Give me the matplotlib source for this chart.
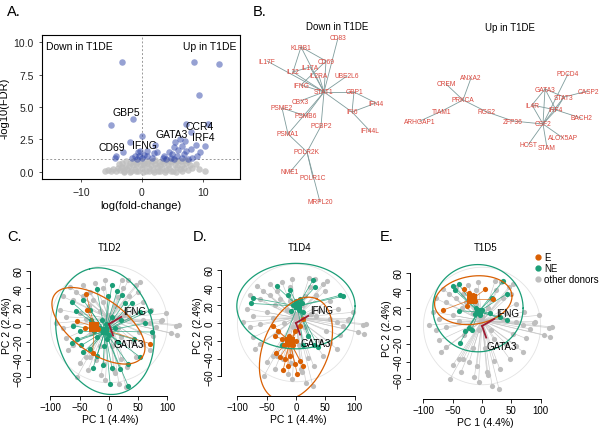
import numpy as np
import matplotlib
matplotlib.use('Agg')
import matplotlib.pyplot as plt

plt.rcParams['font.family'] = ['Liberation Sans', 'DejaVu Sans']

# ---------------- data ----------------
# A. volcano
blue_pts = [(-3.2, 8.5), (8.6, 8.5), (12.6, 8.3), (9.4, 5.9), (10.8, 3.7), (-1.5, 4.1), (-5, 3.6),
            (0, 2.8), (-2, 2.3), (2.2, 2.1), (-4.3, 1.25), (-4.4, 1.05), (-3.1, 1.5), (-0.7, 1.5),
            (-0.4, 1.25), (-0.8, 1.0), (0, 1.05), (0.8, 1.25), (1.6, 1.05), (2.4, 1.5), (-1.6, 1.05),
            (5.4, 2.3), (6.2, 2.5), (7.3, 3.7), (8.1, 3.1), (6.5, 2.0), (7.3, 1.6), (5.2, 1.9),
            (4.4, 1.5), (3.6, 1.25), (4.75, 1.1), (5.8, 1.2), (6.6, 1.1), (8.1, 1.8), (8.9, 2.1),
            (3.9, 1.0), (5.2, 1.0), (3.5, 1.05), (8.3, 1.05), (7.5, 1.0), (9.1, 1.25), (0.9, 1.6),
            (2.0, 1.46), (10.3, 2.0), (-0.3, 1.6), (0.3, 1.3), (-1.2, 1.2), (6.9, 1.4), (4.9, 1.4),
            (9.6, 1.5), (7.0, 2.4), (5.9, 1.7)]
gray_lfc = [-6.0, -5.5, -5.1, -4.7, -4.3, -4.0, -3.6, -3.3, -3.0, -2.7, -2.4, -2.1, -1.8, -1.5, -1.2,
            -0.9, -0.6, -0.3, 0.0, 0.3, 0.6, 0.9, 1.2, 1.5, 1.8, 2.1, 2.4, 2.7, 3.0, 3.3, 3.6, 3.9, 4.2,
            4.5, 4.8, 5.1, 5.4, 5.7, 6.0, 6.3, 6.6, 6.9, 7.2, 7.5, 7.9, 8.3, 8.8, 9.4, 10.3,
            -3.8, -3.2, -2.6, -2.0, -1.4, -0.8, -0.2, 0.4, 1.0, 1.6, 2.2, 2.8, 3.4, 4.0, 4.6, 5.2, 5.8,
            6.4, 7.0, 7.6,
            -2.9, -1.9, -1.0, 0.1, 1.1, 2.0, 2.9, 3.8, 4.7, 5.6, 6.5]
gray_lfdr = [0.05, 0.15, 0.1, 0.25, 0.1, 0.3, 0.15, 0.35, 0.1, 0.4, 0.2, 0.45, 0.1, 0.5, 0.25, 0.6,
             0.1, 0.5, 0.3, 0.55, 0.1, 0.65, 0.3, 0.5, 0.15, 0.6, 0.35, 0.1, 0.55, 0.3, 0.7, 0.15, 0.5,
             0.3, 0.75, 0.1, 0.5, 0.35, 0.8, 0.2, 0.55, 0.3, 0.7, 0.15, 0.5, 0.3, 0.6, 0.2, 0.05,
             0.6, 0.7, 0.8, 0.65, 0.8, 0.75, 0.85, 0.7, 0.85, 0.8, 0.9, 0.75, 0.85, 0.9, 0.8, 0.9, 0.85,
             0.8, 0.9, 0.85,
             0.0, 0.0, 0.05, 0.0, 0.05, 0.0, 0.05, 0.0, 0.05, 0.0, 0.05]
gene_labels = {'GBP5': (-2.5, 4.6), 'CD69': (-4.9, 1.9), 'IFNG': (0.4, 2.1),
               'GATA3': (4.9, 2.9), 'CCR4': (9.4, 3.5), 'IRF4': (10.0, 2.7)}

# B. networks (layout coordinates)
down_nodes = {'CD83': (338, 39), 'KLRB1': (301, 48), 'IL17F': (267, 62), 'CD69': (326, 62),
              'IL17A': (310, 68), 'IL22': (293, 73), 'IL2RA': (319, 77), 'UBE2L6': (347, 77),
              'IFNG': (301, 86), 'STAT1': (324, 93), 'GBP1': (354, 93), 'CBX3': (300, 102),
              'IFI44': (376, 104), 'PSME2': (282, 109), 'IFI6': (352, 113), 'PSMB6': (306, 117),
              'PCBP2': (321, 127), 'PSMA1': (288, 135), 'IFI44L': (370, 132), 'POLR2K': (307, 153),
              'NME1': (290, 173), 'POLR1C': (313, 179), 'MRPL20': (320, 203)}
down_edges = [('CD83', 'STAT1'), ('KLRB1', 'CD69'), ('KLRB1', 'IL22'), ('KLRB1', 'STAT1'),
              ('IL17F', 'STAT1'), ('IL22', 'IL17A'), ('IL22', 'STAT1'), ('CD69', 'STAT1'),
              ('IL17A', 'STAT1'), ('IL2RA', 'STAT1'), ('IFNG', 'STAT1'), ('IFNG', 'CD69'),
              ('UBE2L6', 'STAT1'), ('STAT1', 'GBP1'), ('STAT1', 'IFI6'), ('GBP1', 'IFI44'),
              ('GBP1', 'IFI6'), ('IFI6', 'IFI44'), ('IFI6', 'IFI44L'), ('STAT1', 'CBX3'),
              ('STAT1', 'PSMB6'), ('STAT1', 'PCBP2'), ('STAT1', 'PSMA1'), ('PSME2', 'PSMB6'),
              ('PSME2', 'PSMA1'), ('PCBP2', 'POLR2K'), ('PSMA1', 'POLR2K'), ('POLR2K', 'NME1'),
              ('POLR2K', 'POLR1C'), ('POLR2K', 'MRPL20')]
up_nodes = {'ANXA2': (471, 79), 'CREM': (446, 85), 'PRKCA': (463, 101), 'TIAM1': (442, 112),
            'ARHGAP1': (420, 122), 'RGS2': (487, 113), 'ZFP36': (513, 122), 'CSF2': (543, 125),
            'PDCD4': (568, 75), 'GATA3': (545, 90), 'CASP2': (588, 92), 'STAT3': (564, 98),
            'IL4R': (532, 106), 'IRF4': (556, 111), 'BACH2': (581, 119), 'ALOX5AP': (563, 139),
            'HCST': (528, 146), 'STAM': (547, 149)}
up_edges = [('PRKCA', 'ANXA2'), ('PRKCA', 'CREM'), ('PRKCA', 'TIAM1'), ('TIAM1', 'ARHGAP1'),
            ('PRKCA', 'RGS2'), ('RGS2', 'ZFP36'), ('ZFP36', 'CSF2'), ('CSF2', 'IL4R'),
            ('CSF2', 'GATA3'), ('CSF2', 'IRF4'), ('CSF2', 'STAT3'), ('CSF2', 'PDCD4'),
            ('CSF2', 'HCST'), ('CSF2', 'STAM'), ('CSF2', 'ALOX5AP'), ('IL4R', 'GATA3'),
            ('IL4R', 'IRF4'), ('GATA3', 'IRF4'), ('GATA3', 'STAT3'), ('STAT3', 'CASP2'),
            ('STAT3', 'IRF4'), ('IRF4', 'BACH2')]

# C-E. PCA (PC1, PC2)
other_donors = [(-67, 42), (-56, 36), (-44, 44), (-33, 36), (-24, 46), (-10, 40), (-79, 31), (-62, 27),
                (-44, 31), (-27, 27), (24, 40), (35, 31), (50, 36), (58, 25), (72, 16), (-84, 16),
                (-73, 8), (-90, 1), (-79, -5), (-62, -1), (-50, 12), (-39, 6), (35, 8), (58, 4), (70, 1),
                (81, -3), (89, 3), (75, -14), (52, -9), (41, -20), (58, -22), (-73, -16), (-62, -24),
                (-39, -37), (-50, -44), (-36, -52), (-22, -40), (-13, -57), (10, -55), (30, -48),
                (21, -39), (47, -37), (70, -29), (-70, -29), (90, 5), (115, -2), (106, -10), (97, 12),
                (29, -71), (0, 10), (-15, 15), (10, 20), (-5, -5), (15, -5), (-20, 0), (25, 10),
                (-10, 25), (5, -25), (-30, -10), (20, -15), (-15, -25), (40, 15), (-35, 20), (15, 30),
                (-32, -37), (-9, -45), (8, -52), (-6, -63), (17, -67), (120, -1), (116, -12),
                (-55, -60), (-7, 49), (22, 50), (33, 49), (46, 44), (53, 47)]
other_center = (0, 6)
loadings = {'IFNG': (21, 8), 'GATA3': (7, -13)}

donors = ['T1D2', 'T1D4', 'T1D5']
ne_cells = {
    'T1D2': [(5, 44), (-21, 39), (14, 37), (-64, 25), (-44, 27), (-1, 31), (22, 33), (27, 24), (70, 15),
             (-56, 15), (-32, 16), (39, 24), (62, 1), (-61, -2), (-50, -8), (-54, -17), (-64, -21),
             (-47, -24), (-32, -28), (-44, -32), (-21, -36), (-10, -46), (-27, -49), (5, -49),
             (19, -51), (33, -45), (2, -67), (33, -70), (53, -37), (73, -9), (53, 13), (42, -17),
             (-4, -17), (-15, -5), (-5, 0), (0, -12), (-20, -15), (10, -5), (-12, 5), (5, 8),
             (-25, -8), (15, -20), (-8, -25), (20, 5), (-30, 5)],
    'T1D4': [(29, 48), (32, 40), (75, 31), (80, 30), (-73, 28), (-77, 22), (-33, 41), (-10, 37),
             (-13, 31), (7, 27), (-24, -25), (38, -27), (30, -25), (12, -25), (21, -15), (0, 25),
             (5, 15), (-5, 20), (10, 22), (-8, 14), (12, 12)],
    'T1D5': [(36, 51), (42, 36), (17, 32), (-40, 47), (-49, 45), (-46, 40), (-39, 17), (-23, -2),
             (-18, -5), (-29, -6), (-38, -19), (42, 7), (31, 10), (14, 15), (-10, 20), (-3, 12),
             (-12, 14), (0, 18)],
}
e_cells = {
    'T1D2': [(-39, 34), (-54, 3), (-41, -4), (-37, 16), (-21, -4), (-26, 0), (-18, -6), (70, -22),
             (-28, -33)],
    'T1D4': [(-39, -3), (-31, -9), (-36, -15), (-24, -18), (-2, -9), (7, -3), (12, 4), (-27, -38),
             (-19, -40), (-10, -37), (-2, -46), (7, -43), (-14, -48), (-22, -53), (2, -57), (12, -48),
             (-34, -34), (-15, -20), (-5, -25), (-12, -15), (0, -20), (-20, -25)],
    'T1D5': [(-66, 18), (-31, 41), (-23, 37), (5, 41), (19, 30), (-26, 23), (-20, 32), (-12, 28),
             (-15, 35)],
}
ne_center = {'T1D2': (-7, -8), 'T1D4': (3, 19), 'T1D5': (-6, 16)}
e_center = {'T1D2': (-25, -3), 'T1D4': (-10, -21), 'T1D5': (-17, 30)}
# ellipse: centre, first axis, second axis
ne_ellipse = {'T1D2': ((-7, -8), (-26, 70), (80, 13)),
              'T1D4': ((0, 19), (101, 0), (0, 48)),
              'T1D5': ((-7, 20), (77, 0), (0, 49))}
e_ellipse = {'T1D2': ((-18, -2), (75, -35), (-26.5, -25)),
             'T1D4': ((0, -29), (36, 56), (51, -15)),
             'T1D5': ((-15, 29), (66, 5), (-2, 27))}

ORANGE = '#D95F02'
GREEN = '#1B9E77'
GREY = '#BEBEBE'
RED = '#D9473D'

W, H = 607, 431
fig = plt.figure(figsize=(W / 100, H / 100), dpi=100)


def px_axes(l, t, r, b):
    return fig.add_axes([l / W, 1 - b / H, (r - l) / W, (b - t) / H])


def ftext(x, y, s, **kw):
    fig.text(x / W, 1 - y / H, s, **kw)


# ---------------- A ----------------
axA = px_axes(42, 36, 240, 180)
axA.scatter(gray_lfc, gray_lfdr, s=22, color=GREY, alpha=0.8, lw=0, zorder=2)
bx, by = np.array(blue_pts).T
axA.scatter(bx, by, s=22, color='#2E44A8', alpha=0.5, lw=0, zorder=3)
axA.axvline(0, color='#999999', lw=0.7, ls=(0, (2, 2)), zorder=1)
axA.axhline(1, color='#999999', lw=0.7, ls=(0, (2, 2)), zorder=1)
axA.set_xlim(-16.4, 16.1)
axA.set_ylim(-0.55, 10.55)
axA.set_xticks([-10, 0, 10])
axA.set_yticks([0, 2.5, 5, 7.5, 10])
axA.set_yticklabels(['0.0', '2.5', '5.0', '7.5', '10.0'])
axA.tick_params(labelsize=7.5, length=2.5, width=0.6, colors='#333333', labelcolor='#222222')
for sp in axA.spines.values():
    sp.set_linewidth(0.8)
axA.set_xlabel('log(fold-change)', fontsize=8, labelpad=2)
axA.set_ylabel('-log10(FDR)', fontsize=8, labelpad=3)
axA.text(0.02, 0.96, 'Down in T1DE', transform=axA.transAxes, fontsize=7.5, va='top')
axA.text(0.71, 0.96, 'Up in T1DE', transform=axA.transAxes, fontsize=7.5, va='top')
for g, (gx, gy) in gene_labels.items():
    axA.text(gx, gy, g, fontsize=7.5, ha='center', va='center', zorder=4)

# ---------------- B ----------------
axB = px_axes(225, 0, 607, 215)
axB.set_xlim(225, 607)
axB.set_ylim(215, 0)
axB.axis('off')
for nodes, edges in [(down_nodes, down_edges), (up_nodes, up_edges)]:
    for a, b in edges:
        (x1, y1), (x2, y2) = nodes[a], nodes[b]
        axB.plot([x1, x2], [y1, y2], color='#7F9C9C', lw=0.6, zorder=1)
    for name, (nx, ny) in nodes.items():
        axB.text(nx, ny, name, color=RED, fontsize=4.8, ha='center', va='center', zorder=2)
axB.text(337, 27, 'Down in T1DE', fontsize=7, ha='center', va='center')
axB.text(510, 28, 'Up in T1DE', fontsize=7, ha='center', va='center')


# ---------------- C-E ----------------
def ellipse_xy(ell):
    (cx, cy), (ax1, ay1), (bx1, by1) = ell
    t = np.linspace(0, 2 * np.pi, 200)
    return cx + ax1 * np.cos(t) + bx1 * np.sin(t), cy + ay1 * np.cos(t) + by1 * np.sin(t)


def star(ax, pts, center, color, lw, alpha, s, z):
    px_, py_ = np.array(pts).T
    for x, y in zip(px_, py_):
        ax.plot([center[0], x], [center[1], y], color=color, lw=lw, alpha=alpha, zorder=z)
    ax.scatter(px_, py_, s=s, color=color, lw=0, zorder=z + 0.5)


pca_axes = {'T1D2': ((30, 255, 190, 397), (-135, 138.5), (-80.9, 78.7)),
            'T1D4': ((221, 255, 375, 397), (-128, 135), (-82, 77.5)),
            'T1D5': ((410, 258, 560, 400), (-123, 133), (-82, 77.5))}
title_pos = {'T1D2': (110, 248), 'T1D4': (300, 248), 'T1D5': (486, 248)}

for d in donors:
    box, xl, yl = pca_axes[d]
    ax = px_axes(*box)
    ax.set_xlim(*xl)
    ax.set_ylim(*yl)
    ex, ey = ellipse_xy(((0, 0), (100, 0), (0, 66)))
    ax.plot(ex, ey, color='#E3E3E3', lw=0.6, zorder=0)
    star(ax, other_donors, other_center, GREY, 0.45, 0.8, 14, 1)
    star(ax, ne_cells[d], ne_center[d], GREEN, 0.55, 0.8, 14, 3)
    star(ax, e_cells[d], e_center[d], ORANGE, 0.55, 0.8, 14, 4)
    ex, ey = ellipse_xy(ne_ellipse[d])
    ax.plot(ex, ey, color=GREEN, lw=0.9, zorder=5)
    ex, ey = ellipse_xy(e_ellipse[d])
    ax.plot(ex, ey, color=ORANGE, lw=0.9, zorder=5)
    ax.scatter(*ne_center[d], marker='s', s=40, color=GREEN, lw=0, zorder=6)
    ax.scatter(*e_center[d], marker='s', s=55, color=ORANGE, lw=0, zorder=6)
    for g, (lx, ly) in loadings.items():
        ax.plot([0, lx], [0, ly], color='#9E1B32', lw=1.3, zorder=7)
    ax.annotate('IFNG', loadings['IFNG'], xytext=(1, 4), textcoords='offset points',
                fontsize=7, ha='left', va='center', zorder=8)
    ax.annotate('GATA3', loadings['GATA3'], xytext=(0, -6), textcoords='offset points',
                fontsize=7, ha='left', va='center', zorder=8)
    for side in ['top', 'right']:
        ax.spines[side].set_visible(False)
    ax.spines['left'].set_bounds(-60, 60)
    ax.spines['bottom'].set_bounds(-100, 100)
    for side in ['left', 'bottom']:
        ax.spines[side].set_linewidth(0.7)
    ax.set_xticks([-100, -50, 0, 50, 100])
    ax.set_yticks([-60, -40, -20, 0, 20, 40, 60])
    ax.tick_params(direction='out', length=3, width=0.6, labelsize=7, pad=1.5)
    for lab in ax.get_yticklabels():
        lab.set_rotation(90)
        lab.set_va('center')
    ax.set_xlabel('PC 1 (4.4%)', fontsize=7.5, labelpad=1)
    ax.set_ylabel('PC 2 (2.4%)', fontsize=7.5, labelpad=1)
    tx, ty = title_pos[d]
    ftext(tx, ty, d, fontsize=7, ha='center', va='center')

# legend
h1 = plt.Line2D([], [], marker='o', ls='', color=ORANGE, markersize=3.5)
h2 = plt.Line2D([], [], marker='o', ls='', color=GREEN, markersize=3.5)
h3 = plt.Line2D([], [], marker='o', ls='', color=GREY, markersize=3.5)
fig.legend([h1, h2, h3], ['E', 'NE', 'other donors'], loc='upper left',
           bbox_to_anchor=(536 / W, 1 - 253 / H), frameon=False, fontsize=7,
           handlelength=0.5, handletextpad=0.3, labelspacing=0.1, borderpad=0, borderaxespad=0)

# panel letters
for letter, (lx, ly) in {'A.': (7, 12), 'B.': (253, 12), 'C.': (7, 237),
                         'D.': (193, 237), 'E.': (380, 237)}.items():
    ftext(lx, ly, letter, fontsize=10.5, ha='left', va='center')

fig.savefig('out.png', dpi=100)
